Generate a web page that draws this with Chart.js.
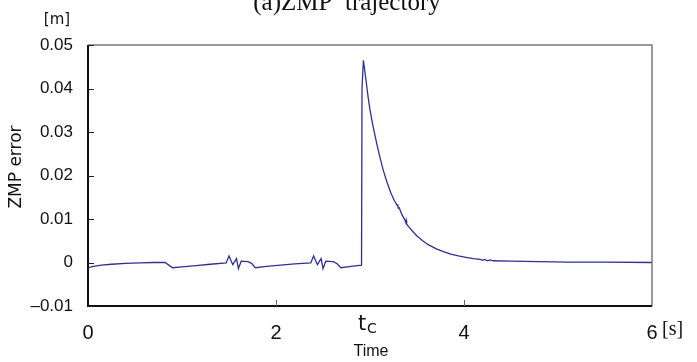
<!DOCTYPE html>
<html>
<head>
<meta charset="utf-8">
<script src="https://cdn.jsdelivr.net/npm/chart.js@4/dist/chart.umd.min.js"></script>
<style>
  html, body { margin: 0; padding: 0; background: #fff; }
  #wrap { width: 697px; height: 362px; }
</style>
</head>
<body>
<div id="wrap"><canvas id="zmp"></canvas></div>
<script>
// time [s] and ZMP error [m]
const timeS = [
  0.00, 0.06, 0.14, 0.25, 0.40, 0.55, 0.70, 0.82, 0.86, 0.90,
  1.00, 1.15, 1.30, 1.47, 1.50, 1.54, 1.58, 1.60, 1.63, 1.70,
  1.74, 1.78, 1.90, 2.05, 2.20, 2.37, 2.40, 2.44, 2.48, 2.50,
  2.53, 2.61, 2.65, 2.69, 2.80, 2.91, 2.915, 2.93, 2.96, 2.98,
  3.00, 3.03, 3.07, 3.10, 3.14, 3.18, 3.22, 3.26, 3.29, 3.295,
  3.30, 3.31, 3.34, 3.37, 3.38, 3.385, 3.39, 3.42, 3.46, 3.50,
  3.56, 3.62, 3.70, 3.78, 3.86, 3.94, 4.02, 4.10, 4.17, 4.20,
  4.22, 4.25, 4.28, 4.31, 4.50, 4.80, 5.10, 5.50, 6.00
];
const zmpError = [
  -0.0012, -0.0009, -0.0006, -0.0004, -0.0002, -0.0001, 0.0000, 0.0000, -0.0006, -0.0012,
  -0.0010, -0.0007, -0.0004, -0.0001, 0.0015, -0.0005, 0.0009, -0.0014, 0.0003, 0.0002,
  -0.0002, -0.0012, -0.0009, -0.0006, -0.0003, -0.0001, 0.0015, -0.0005, 0.0009, -0.0014,
  0.0003, 0.0002, -0.0003, -0.0012, -0.0009, -0.0006, 0.0400, 0.0465, 0.0415, 0.0380,
  0.0351, 0.0316, 0.0275, 0.0247, 0.0213, 0.0185, 0.0161, 0.0142, 0.0131, 0.0134,
  0.0125, 0.0126, 0.0110, 0.0098, 0.0092, 0.0097, 0.0088, 0.0080, 0.0070, 0.0061,
  0.0050, 0.0041, 0.0032, 0.0025, 0.0019, 0.0015, 0.0012, 0.0009, 0.0007, 0.0005,
  0.0007, 0.0004, 0.0006, 0.0004, 0.0003, 0.0002, 0.0001, 0.0001, 0.0000
];
const xTicks = [0, 2, 4, 6];
const yTicks = [0.05, 0.04, 0.03, 0.02, 0.01, 0, -0.01];
const yTickLabels = ['0.05', '0.04', '0.03', '0.02', '0.01', '0', '\u20130.01'];
const tcTime = 2.98;

const font = '"Liberation Sans", Arial, sans-serif';
const wide = '"DejaVu Sans", sans-serif';
const serif = '"Liberation Serif", "Times New Roman", serif';

// frame, inward ticks and the loose labels
const decor = {
  id: 'decor',
  afterDraw(chart) {
    const { ctx, chartArea: a, scales: { x, y } } = chart;
    ctx.save();
    // top + right in grey
    ctx.strokeStyle = '#7a7a7a';
    ctx.lineWidth = 1.5;
    ctx.beginPath();
    ctx.moveTo(a.left, a.top); ctx.lineTo(a.right, a.top); ctx.lineTo(a.right, a.bottom);
    ctx.stroke();
    // left + bottom in black
    ctx.strokeStyle = '#111';
    ctx.lineWidth = 2;
    ctx.beginPath();
    ctx.moveTo(a.left, a.top); ctx.lineTo(a.left, a.bottom); ctx.lineTo(a.right, a.bottom);
    ctx.stroke();
    // ticks pointing in
    ctx.lineWidth = 1;
    ctx.strokeStyle = '#222';
    yTicks.forEach(v => {
      const py = Math.round(y.getPixelForValue(v)) + 0.5;
      ctx.beginPath(); ctx.moveTo(a.left, py); ctx.lineTo(a.left + 6, py); ctx.stroke();
    });
    ctx.strokeStyle = '#666';
    [2, 4].forEach(v => {
      const px = Math.round(x.getPixelForValue(v)) + 0.5;
      ctx.beginPath(); ctx.moveTo(px, a.bottom); ctx.lineTo(px, a.bottom - 6); ctx.stroke();
    });

    ctx.fillStyle = '#111';
    // title, clipped at the top like the source
    ctx.font = '25px ' + serif;
    ctx.textAlign = 'center';
    ctx.textBaseline = 'alphabetic';
    ctx.fillText('(a)ZMP  trajectory', 347, 10);
    // unit labels
    ctx.font = '15px ' + wide;
    ctx.textBaseline = 'middle';
    ctx.fillText('[m]', 57, 20);
    ctx.font = '20px ' + serif;
    ctx.textAlign = 'left';
    ctx.fillText('[s]', 662, 330);
    // tC marker under the axis
    const tx = x.getPixelForValue(tcTime);
    ctx.textBaseline = 'alphabetic';
    ctx.font = '21px ' + wide;
    ctx.fillText('t', tx - 10, 330);
    ctx.font = '14px ' + wide;
    ctx.fillText('C', tx - 1, 333);
    // axis titles
    ctx.textBaseline = 'middle';
    ctx.font = '16px ' + font;
    ctx.textAlign = 'center';
    ctx.fillText('Time', 371, 352);
    ctx.font = '17px ' + wide;
    ctx.translate(17, 167);
    ctx.rotate(-Math.PI / 2);
    ctx.fillText('ZMP error', 0, 0);
    ctx.restore();
  }
};

new Chart(document.getElementById('zmp'), {
  type: 'scatter',
  data: {
    datasets: [{
      data: timeS.map((t, i) => ({ x: t, y: zmpError[i] })),
      showLine: true,
      borderColor: '#2e3192',
      borderWidth: 1.3,
      pointRadius: 0,
      tension: 0
    }]
  },
  options: {
    responsive: true,
    maintainAspectRatio: false,
    animation: false,
    layout: { padding: { top: 45, right: 45, left: 0, bottom: 0 } },
    plugins: { legend: { display: false }, tooltip: { enabled: false } },
    scales: {
      x: {
        type: 'linear', min: 0, max: 6,
        afterBuildTicks: s => { s.ticks = xTicks.map(v => ({ value: v })); },
        afterFit: s => { s.height = 56; },
        grid: { display: false, drawTicks: false },
        border: { display: false },
        ticks: { color: '#111', font: { family: font, size: 20 }, padding: 15 }
      },
      y: {
        min: -0.01, max: 0.05,
        afterBuildTicks: s => { s.ticks = yTicks.map(v => ({ value: v })); },
        afterFit: s => { s.width = 88; },
        grid: { display: false, drawTicks: false },
        border: { display: false },
        ticks: {
          color: '#111', font: { family: font, size: 17 }, padding: 15,
          callback: v => yTickLabels[yTicks.indexOf(Math.round(v * 100) / 100)]
        }
      }
    }
  },
  plugins: [decor]
});
</script>
</body>
</html>
